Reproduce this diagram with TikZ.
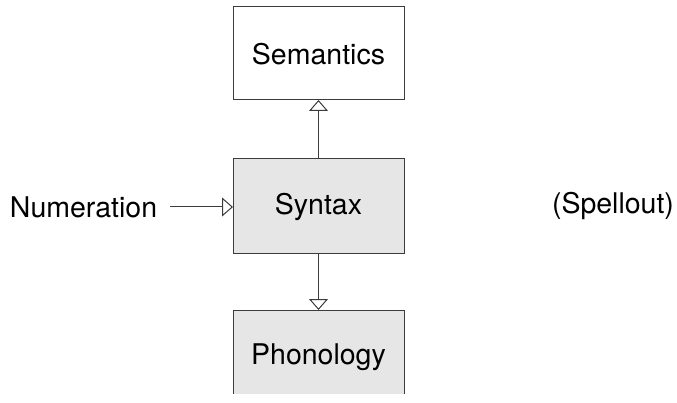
\documentclass[tikz,border=0pt]{standalone}
\usepackage{fontspec}
\setmainfont{TeX Gyre Heros}
\usetikzlibrary{arrows.meta}
\definecolor{boxfill}{HTML}{E6E6E6}
\definecolor{linec}{HTML}{3C3C3C}
\tikzset{
  labeltext/.style={font=\fontsize{28.5}{34}\selectfont, inner sep=0pt, outer sep=0pt},
  stagebox/.style={draw=linec, line width=1pt, minimum width=171pt, inner sep=0pt, outer sep=0pt, font=\fontsize{28.5}{34}\selectfont},
  openarr/.style={draw=linec, line width=1pt, -{Triangle[open, length=11pt, width=19pt, fill=white]}}
}
\begin{document}
\begin{tikzpicture}[x=1pt, y=-1pt]
\useasboundingbox (0,0) rectangle (677,403);
\node[stagebox, fill=white, minimum height=93pt, text depth=0pt] (sem) at (318.5,53.5) {Semantics};
\node[stagebox, fill=boxfill, minimum height=95pt] (syn) at (318.5,206.5) {Syntax};
\begin{scope}
\clip (0,0) rectangle (677,393);
\node[stagebox, fill=boxfill, minimum height=95pt] (pho) at (318.5,357.5) {Phonology};
\end{scope}
\node[labeltext, text depth=0pt] (num) at (83.5,207) {Numeration};
\node[labeltext] (spell) at (613,206) {(Spellout)};
\draw[openarr] (syn.north) -- (sem.south);
\draw[openarr] (syn.south) -- (pho.north);
\draw[openarr] ([xshift=13pt]num.east) -- (num.east -| syn.west);
\end{tikzpicture}
\end{document}
